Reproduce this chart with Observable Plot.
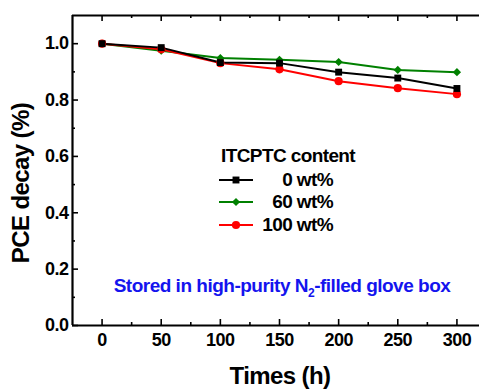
<!DOCTYPE html>
<html>
<head>
<meta charset="utf-8">
<script src="https://cdn.jsdelivr.net/npm/d3@7"></script>
<script src="https://cdn.jsdelivr.net/npm/@observablehq/plot@0.6"></script>
<style>
  html, body { margin: 0; padding: 0; background: #fff; overflow: hidden; }
  #chart { width: 479px; height: 390px; }
  svg text { font-family: "Liberation Sans", Arial, sans-serif; font-weight: bold; }
</style>
</head>
<body>
<div id="chart"></div>
<script>
// ---- data ----
const times = [0, 50, 100, 150, 200, 250, 300];
const wt0   = [1.000, 0.986, 0.933, 0.931, 0.899, 0.878, 0.841];
const wt60  = [1.000, 0.975, 0.949, 0.943, 0.935, 0.907, 0.899];
const wt100 = [1.000, 0.980, 0.931, 0.909, 0.867, 0.842, 0.821];
const seriesNames = ["0 wt%", "60 wt%", "100 wt%"];
const seriesColors = ["#000000", "#008000", "#ff0000"];
const seriesSymbols = ["square", "diamond2", "circle"];
const xMajorTicks = [0, 50, 100, 150, 200, 250, 300];
const xMinorTicks = [25, 75, 125, 175, 225, 275];
const yMajorTicks = [0, 0.2, 0.4, 0.6, 0.8, 1.0];
const yMinorTicks = [0.1, 0.3, 0.5, 0.7, 0.9];
const xTitle = "Times (h)";
const yTitle = "PCE decay (%)";
const legendTitle = "ITCPTC content";

const rows = [];
[wt0, wt60, wt100].forEach((vals, s) => {
  vals.forEach((v, i) => rows.push({series: seriesNames[s], t: times[i], v}));
});
const drawOrder = [1, 2, 0]; // green, red, black on top

const lineMarks = [];
for (const s of drawOrder) {
  const d = rows.filter(r => r.series === seriesNames[s]);
  lineMarks.push(Plot.line(d, {x: "t", y: "v", stroke: seriesColors[s], strokeWidth: 2}));
}
for (const s of drawOrder) {
  const d = rows.filter(r => r.series === seriesNames[s]);
  const r = s === 0 ? 3.9 : s === 1 ? 3.7 : 4.1;
  lineMarks.push(Plot.dot(d, {x: "t", y: "v", fill: seriesColors[s], stroke: "none", symbol: seriesSymbols[s], r}));
}

const tickStyle = {stroke: "#000", strokeWidth: 1.6};
const svg = Plot.plot({
  width: 479,
  height: 390,
  marginLeft: 72,
  marginRight: 0,
  marginTop: 15,
  marginBottom: 65,
  x: {domain: [-25, 325], range: [72, 486], axis: null},
  y: {domain: [0, 1.1], range: [325, 15], axis: null},
  style: {fontFamily: "Liberation Sans, Arial, sans-serif"},
  marks: [
    // tick labels
    Plot.axisX(xMajorTicks, {anchor: "bottom", tickSize: 0, tickPadding: 8, fontSize: 18, fontWeight: "bold", fill: "#000", tickFormat: d => String(d), label: null}),
    Plot.axisY(yMajorTicks, {anchor: "left", tickSize: 0, tickPadding: 4, fontSize: 18, fontWeight: "bold", fill: "#000", tickFormat: d3.format(".1f"), label: null}),
    // inward ticks (bottom & top)
    Plot.ruleX(xMajorTicks, {x: d => d, y1: 0, y2: 0, insetBottom: 6, ...tickStyle}),
    Plot.ruleX(xMinorTicks, {x: d => d, y1: 0, y2: 0, insetBottom: 3, ...tickStyle}),
    Plot.ruleX(xMajorTicks, {x: d => d, y1: 1.1, y2: 1.1, insetBottom: -6, ...tickStyle}),
    Plot.ruleX(xMinorTicks, {x: d => d, y1: 1.1, y2: 1.1, insetBottom: -3, ...tickStyle}),
    // inward ticks (left)
    Plot.ruleY(yMajorTicks, {y: d => d, x1: -25, x2: -25, insetRight: -6, ...tickStyle}),
    Plot.ruleY(yMinorTicks, {y: d => d, x1: -25, x2: -25, insetRight: -3, ...tickStyle}),
    // frame (left, bottom, top)
    Plot.ruleX([-25], {stroke: "#000", strokeWidth: 2.2}),
    Plot.ruleY([0], {stroke: "#000", strokeWidth: 2.2}),
    Plot.ruleY([1.1], {stroke: "#000", strokeWidth: 2.2}),
    ...lineMarks
  ]
});
document.getElementById("chart").appendChild(svg);

const g = d3.select(svg);
g.selectAll("text").style("letter-spacing", "-0.5px");

// axis titles
g.append("text").attr("x", 280).attr("y", 384).attr("text-anchor", "middle")
  .attr("font-size", 24).style("letter-spacing", "-0.6px").attr("fill", "#000").text(xTitle);
g.append("text").attr("transform", "translate(29,183) rotate(-90)").attr("text-anchor", "middle")
  .attr("font-size", 24).style("letter-spacing", "-0.6px").attr("fill", "#000").text(yTitle);

// legend
const lg = g.append("g");
lg.append("text").attr("x", 221).attr("y", 162).attr("text-anchor", "start").attr("font-size", 19)
  .style("letter-spacing", "-0.6px").attr("fill", "#000").text(legendTitle);
const legendYs = [180, 202, 225];
const symMap = {square: d3.symbolSquare, diamond2: d3.symbolDiamond2, circle: d3.symbolCircle};
const symR = [3.9, 3.7, 4.1];
seriesNames.forEach((name, s) => {
  const y = legendYs[s];
  lg.append("line").attr("x1", 219).attr("x2", 253).attr("y1", y).attr("y2", y)
    .attr("stroke", seriesColors[s]).attr("stroke-width", 2);
  lg.append("path").attr("transform", `translate(236,${y})`)
    .attr("d", d3.symbol(symMap[seriesSymbols[s]], Math.PI * symR[s] * symR[s])())
    .attr("fill", seriesColors[s]);
  lg.append("text").attr("x", 333).attr("y", y + 6).attr("text-anchor", "end")
    .attr("font-size", 19).style("letter-spacing", "-0.6px").attr("fill", "#000").text(name);
});

// annotation
const ann = g.append("text").attr("x", 282).attr("y", 292).attr("text-anchor", "middle")
  .attr("font-size", 19).style("letter-spacing", "-0.5px").attr("fill", "#1414ee");
ann.append("tspan").text("Stored in high-purity N");
ann.append("tspan").attr("font-size", 12).attr("dy", 5).text("2");
ann.append("tspan").attr("dy", -5).text("-filled glove box");
</script>
</body>
</html>
